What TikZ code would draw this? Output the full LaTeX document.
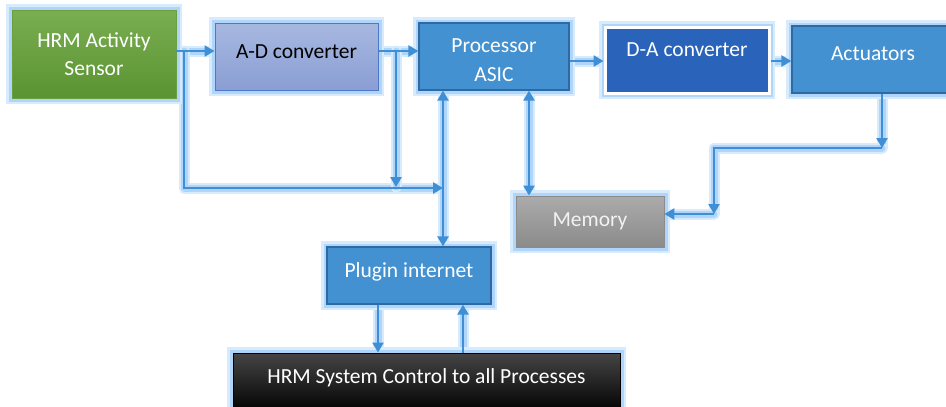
\documentclass[tikz,border=0pt]{standalone}
\usepackage{fontspec}
\setmainfont{Carlito}
\usetikzlibrary{arrows.meta,backgrounds}
\definecolor{glowc}{HTML}{B0D5FA}
\definecolor{glowd}{HTML}{D8EBFD}
\definecolor{linec}{HTML}{3E8FD6}
\definecolor{boxblue}{HTML}{4391D0}
\definecolor{boxbord}{HTML}{2D6AA3}
\definecolor{greentop}{HTML}{7AAE51}
\definecolor{greenbot}{HTML}{5A9331}
\definecolor{greenbord}{HTML}{6AA040}
\definecolor{adtop}{HTML}{A7B8E0}
\definecolor{adbot}{HTML}{8A9ED4}
\definecolor{adbord}{HTML}{4E78C4}
\definecolor{dafill}{HTML}{2964BA}
\definecolor{memtop}{HTML}{ABABAB}
\definecolor{membot}{HTML}{8B8B8B}
\definecolor{memtext}{HTML}{F2F2F2}
\definecolor{ctrltop}{HTML}{454545}
\newcommand\myconns{%
  \draw[arr] ([yshift=3pt]sensor.east) -- ([yshift=5.5pt]ad.west);
  \draw[arr] ([yshift=5.5pt]ad.east) -- ([yshift=5.5pt]proc.west);
  \draw[arr] (j1) |- (busend);
  \draw[arr] (j2) -- (j2e);
  \draw[arrb] (proc.south -| busend) -- (plug.north -| busend);
  \draw[arrb] (proc.south -| m1) -- (mem.north -| m1);
  \draw[arr] ([yshift=-4.5pt]proc.east) -- ([yshift=-1pt]da.west);
  \draw[arr] ([yshift=-1pt]da.east) -- ([yshift=-1.5pt]act.west);
  \draw[arr] (act.south -| a2) -- (a2);
  \draw[arr] (a2) -| (a3);
  \draw[arr] (a3) -- (mem.east |- a3);
  \draw[arr] (plug.south -| p1) -- (ctrl.north -| p1);
  \draw[arr] (ctrl.north -| p2) -- (plug.south -| p2);
}
\begin{document}
\begin{tikzpicture}[x=1pt,y=-1pt,
  box/.style={draw=boxbord, line width=1.3pt, fill=boxblue, text=white,
    align=center, inner sep=2pt, font=\fontsize{21.5}{28.5}\selectfont,
    preaction={draw=glowd, line width=12pt},
    preaction={draw=glowc, line width=7pt}},
  shiftup/.style={text height=16pt, text depth=#1}]
\clip (0,0) rectangle (946,407);
% nodes
\node[box, draw=greenbord, line width=0.8pt, top color=greentop, bottom color=greenbot,
  minimum width=164pt, minimum height=88pt] (sensor) at (94,54) {HRM Activity\\Sensor};
\node[box, draw=adbord, line width=1pt, top color=adtop, bottom color=adbot, text=black,
  minimum width=163pt, minimum height=67pt, shiftup=11.5pt] (ad) at (296.5,56.5) {A-D converter};
\node[box, minimum width=150pt, minimum height=67pt, text height=50pt] (proc) at (494,56.5) {Processor\\ASIC};
\node[box, draw=white, line width=3pt, fill=dafill,
  minimum width=164pt, minimum height=66pt, shiftup=23pt] (da) at (687,60) {D-A converter};
\node[box, minimum width=162pt, minimum height=67pt, shiftup=15pt] (act) at (873,59.5) {Actuators};
\node[box, draw=membot, line width=0.8pt, top color=memtop, bottom color=membot, text=memtext,
  minimum width=148pt, minimum height=51pt, shiftup=7pt] (mem) at (590,221.5) {Memory};
\node[box, minimum width=164pt, minimum height=57pt, shiftup=13pt] (plug) at (409,275.5) {Plugin internet};
\node[box, draw=black, line width=1pt, top color=ctrltop, bottom color=black,
  minimum width=387pt, minimum height=60pt, shiftup=16pt] (ctrl) at (426.5,383) {HRM System Control to all Processes};
% junction coordinates
\coordinate (j1) at (184,51);
\coordinate (busend) at (443,188);
\coordinate (j2) at (396,51);
\coordinate (j2e) at (396,187);
\coordinate (m1) at (529,0);
\coordinate (a2) at (882,148);
\coordinate (a3) at (714,214);
\coordinate (p1) at (378,0);
\coordinate (p2) at (463,0);
% connector glows
\begin{pgfonlayer}{background}
  \fill[white] (0,0) rectangle (946,407);
  \begin{scope}[arr/.style={draw=glowd, line width=11pt, line cap=round, line join=round,
      postaction={draw=glowc, line width=7pt, line cap=round, line join=round}},
    arrb/.style={arr}]
    \myconns
  \end{scope}
\end{pgfonlayer}
% connectors
\begin{scope}[arr/.style={draw=linec, line width=2.4pt, -{Triangle[length=10pt,width=11pt]}},
  arrb/.style={draw=linec, line width=2.4pt, {Triangle[length=10pt,width=11pt]}-{Triangle[length=10pt,width=11pt]}}]
  \myconns
\end{scope}
\end{tikzpicture}
\end{document}
